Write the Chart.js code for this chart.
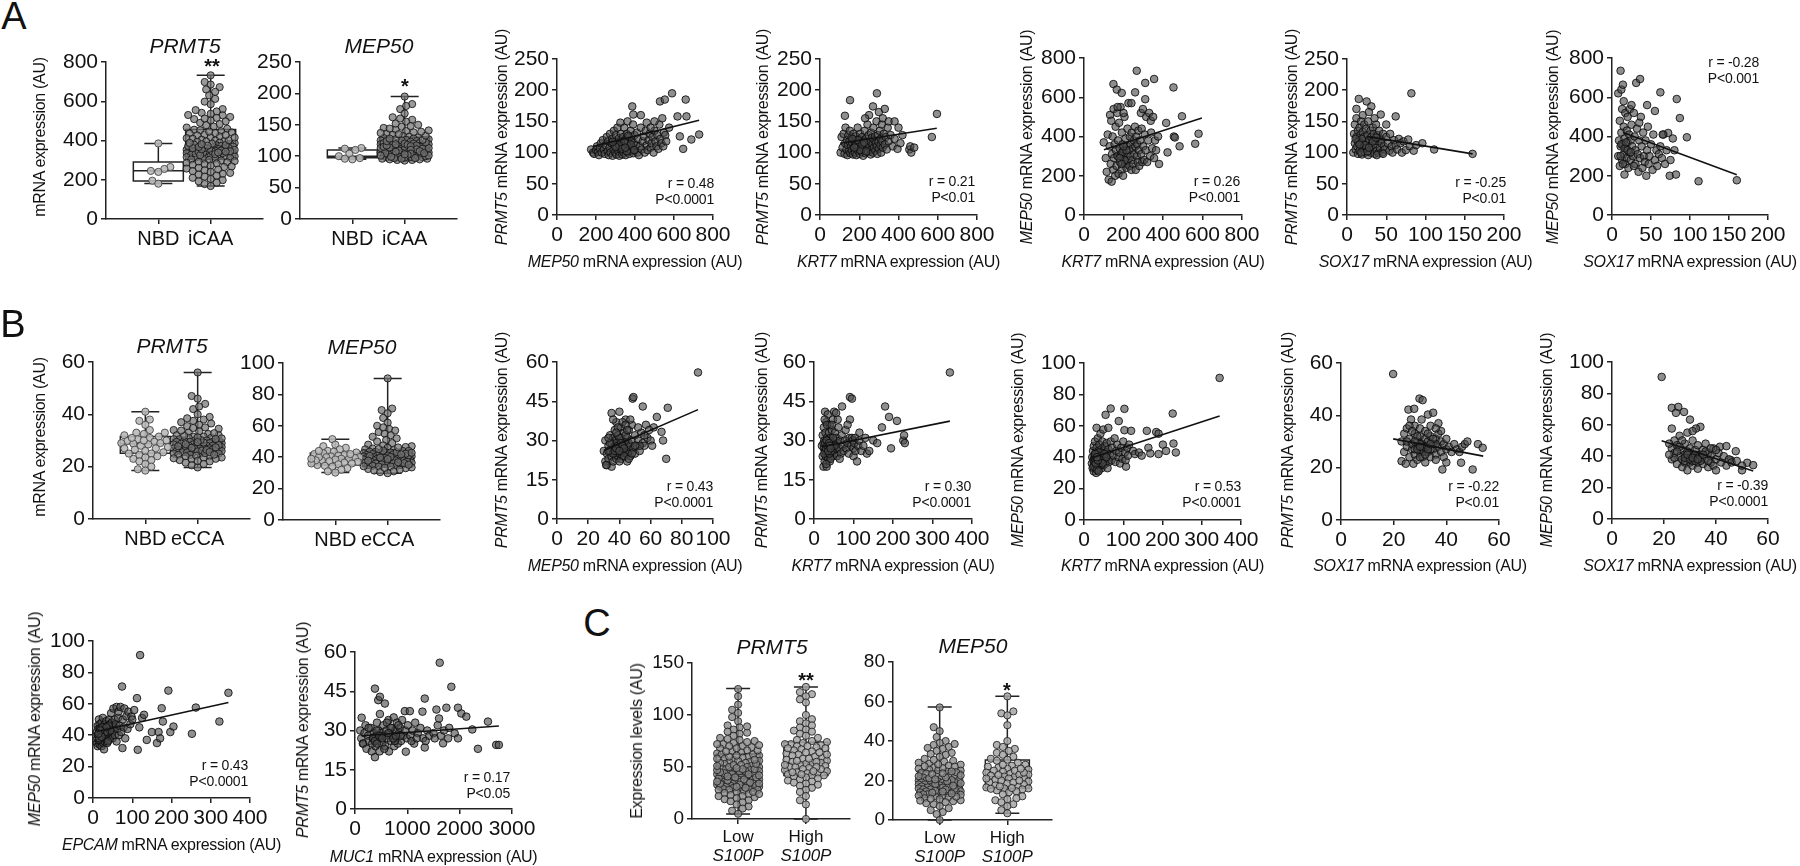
<!DOCTYPE html>
<html><head><meta charset="utf-8">
<script src="https://cdn.jsdelivr.net/npm/chart.js@4.4.0/dist/chart.umd.min.js"></script>
<style>
body{margin:0;background:#fff;width:1800px;height:866px;overflow:hidden;position:relative;font-family:"Liberation Sans",Arial,Helvetica,sans-serif;color:#111}
canvas{position:absolute}
.t{position:absolute;white-space:nowrap;line-height:1;transform:translate(-50%,-50%);z-index:5}
.rot{transform:translate(-50%,-50%) rotate(-90deg)}
.ann{position:absolute;white-space:nowrap;text-align:right;transform:translate(-100%,-50%);font-size:14px;line-height:16px;letter-spacing:-0.2px;z-index:5}
.ttl{letter-spacing:-0.3px}
</style></head><body>
<script>
// ================= DATA =================
// Box-plot categories
const catA = ['NBD','iCAA'];
const catB = ['NBD','eCCA'];
const catC = ['Low','High'];
const catCsub = ['S100P','S100P'];

// Box statistics [min, q1, median, q3, max]
const statsA_PRMT5 = [[181,193,246,291,385],[168,304,360,456,732]];
const statsA_MEP50 = [[95,97.5,100,109.7,113],[93,107,118,130,195]];
const statsB_PRMT5 = [[18.5,25.1,28.9,31.5,41],[19.7,25.8,27.7,30.4,56]];
const statsB_MEP50 = [[30.2,35.1,39,42.6,51.5],[29.8,34,39.4,44.7,90.2]];
const statsC_PRMT5 = [[4.8,31.9,45,62.6,125.4],[0,41.8,53.6,73.7,127]];
const statsC_MEP50 = [[0,13,18.3,24.9,57.2],[3.4,16.1,22,30.4,62.6]];

// Box-plot individual values
const A_PRMT5_NBD = [385,265,255,245,240,195,180];
const A_PRMT5_iCAA = [732,698,685,672,660,648,630,612,598,585,560,548,541,536,528,520,515,509,502,497,490,484,478,471,466,460,455,452,447,441,436,430,426,421,417,412,409,404,400,397,393,389,386,382,379,375,372,369,366,362,359,356,353,350,348,345,342,340,337,335,332,330,327,325,322,320,318,315,313,311,308,306,303,301,298,295,292,289,286,283,280,276,272,268,265,261,257,252,248,244,240,235,230,226,221,216,210,204,198,192,185,178,168,352,347,344,338,334,358,363,371,377,384,395,402,415,428,438,445,512,530,555,345,341,336,331,326,349,343,339,355,361,367,374,381,388];
const A_MEP50_NBD = [113,112,110,104,100,97,96,95];
const A_MEP50_iCAA = [195,183,180,175,168,162,158,155,150,147,145,142,140,138,136,134,132,131,130,129,128,127,126,125,124,123,122,121,120,120,119,118,118,117,116,116,115,114,114,113,112,112,111,110,110,109,108,108,107,106,106,105,104,104,103,102,102,101,100,100,99,98,98,97,96,96,95,94,94,93,119,117,115,113,111,109,107,105,103,101,99,97,121,123,125,127,120,118,116,114,112,110,108,106,104,102,100,98,96,95,97,99,101,103,105,113,115,117,119,122,124,126,128,133,135,137,139,141,144,148,152,160];
const B_PRMT5_NBD = [41,38,37.5,36,34,33,32.5,32,31.5,31,30.5,30,29.8,29.5,29,28.8,28.5,28,27.5,27,26.5,26,25.5,25,24.5,24,23.5,23,22.5,22,21,20,19,18.5,31,29,27,25,33,30];
const B_PRMT5_eCCA = [56,47,46,44,42,40,39,38,37.5,37,36,35.5,35,34.5,34,33.5,33,32.5,32,32,31.5,31.5,31,31,30.5,30.5,30,30,30,29.5,29.5,29.5,29,29,29,28.5,28.5,28.5,28,28,28,28,27.5,27.5,27.5,27,27,27,27,26.5,26.5,26.5,26,26,26,26,25.5,25.5,25.5,25,25,25,24.5,24.5,24,24,23.5,23.5,23,23,22.5,22,21.5,21,20.5,19.7,29.8,28.8,27.8,26.8,25.8,30.8,31.8,32.8,33.8,34.8,29.2,28.2,27.2,26.2,25.2,24.2,23.2,22.2,30.2,31.2,28.6,27.4,26.4,29.4,30.6,25.6,24.6,36.5,38.5,43];
const B_MEP50_NBD = [51.5,48,47,46,45,44,43.5,43,42.5,42,41.5,41,40.5,40,40,39.5,39,39,38.5,38,37.5,37,36.5,36,35.5,35,34.5,34,33,32,31,30.2,40,38,42,36,44,39];
const B_MEP50_eCCA = [90.2,71,70,68,65,62,60,58,57,56,55,53,52,51,50,49,48,47.5,47,46.5,46,45.5,45,44.5,44,44,43.5,43.5,43,43,42.5,42.5,42,42,41.5,41.5,41,41,41,40.5,40.5,40,40,40,39.5,39.5,39.5,39,39,39,38.5,38.5,38.5,38,38,38,37.5,37.5,37,37,37,36.5,36.5,36,36,35.5,35.5,35,35,34.5,34.5,34,34,33.5,33,32.5,32,31.5,31,30.5,29.8,40.2,39.2,38.2,37.2,36.2,41.2,42.2,43.2,44.2,45.2,46.2,35.2,34.2,33.2,40.8,39.8,38.8,37.8,36.8,41.8,42.8,54,59];
const C_PRMT5_Low = [125,118,110,105,102,98,94,90,88,86,84,82,80,78,76,75,73,72,70,69,68,66,65,64,63,62,61,60,59,58,57,56,55,55,54,53,52,51,50,50,49,48,47,47,46,45,45,44,43,43,42,41,41,40,40,39,39,38,38,37,37,36,36,35,35,35,34,34,34,33,33,33,32,32,32,31,31,31,30,30,30,29,29,28,28,27,26,25,24,23,22,21,20,18,16,14,12,10,8,5,44,46,48,42,40,38,36,34,36,38,40,42,44,46,48,50,52,54,56,58,60,62,66,68,70,72,74,35,33,31,37,39,41,43,45,47,49,51,53,57,61,65,71,77,83,89,32,34,36,30,28,26,24,22,19,17];
const C_PRMT5_High = [127,122,120,118,115,112,100,96,94,92,90,88,86,85,84,82,80,78,76,75,74,73,72,72,71,70,70,69,68,67,66,65,64,63,62,61,60,59,58,57,56,55,54,54,53,52,51,50,50,49,48,47,46,45,44,44,43,42,42,41,40,39,38,37,36,35,34,33,32,30,28,26,22,18,14,0,62,58,55,48,45,52,64,68,56,50,46,43];
const C_MEP50_Low = [57,47,45,42,40,39,38,37,36,35,34,33,32,31,30,29.5,29,28.5,28,27.5,27,26.5,26,25.5,25,24.5,24,23.5,23,22.5,22,21.5,21,20.5,20,20,19.5,19.5,19,19,18.5,18.5,18,18,17.5,17.5,17,17,16.5,16.5,16,16,15.5,15.5,15,15,14.5,14.5,14,14,13.5,13.5,13,13,12.5,12,11.5,11,10.5,10,9.5,9,8.5,8,7,6,5,4,3,0,18.2,17.8,19.2,16.8,20.2,15.8,21.2,14.8,22.2,13.8,23.2,12.8,24.2,11.8,25.2,26.2,27.2,18.6,17.4,19.6,16.4,20.6,15.4,21.6,14.4,22.6,13.4,23.6,12.4,24.6,10.8,9.8,28.2,30.5,33.5,36.5,38.5];
const C_MEP50_High = [62.6,55,54,53,48,40,38,37,36,35,34,33,32,31,30.5,30,29,28,27.5,27,26.5,26,25.5,25,24.5,24,23.5,23,22.5,22,22,21.5,21,20.5,20,19.5,19,18.5,18,17.5,17,16.5,16,16,15.5,15,14.5,14,13,12,11,10.5,10,9,8,7,5,3.4,25,23,21,19,28,24,26,20,17,22.8,16.2,15.8];

// Scatter points [x, y]
const ptsA1 = [[175,105],[185,100],[190,98],[200,104],[205,110],[210,101],[215,96],[220,107],[225,115],[230,100],[235,120],[240,105],[245,98],[250,112],[255,125],[260,102],[262,118],[265,96],[270,108],[272,130],[275,100],[280,115],[283,122],[285,95],[290,105],[292,135],[295,112],[298,100],[300,118],[302,128],[305,97],[308,108],[310,140],[312,115],[315,102],[318,123],[320,95],[322,110],[325,148],[328,130],[330,104],[332,118],[335,97],[338,112],[340,125],[342,100],[345,140],[348,108],[350,120],[352,96],[355,113],[358,130],[360,102],[362,150],[365,117],[368,105],[370,125],[372,98],[375,110],[378,135],[380,103],[385,120],[388,108],[390,145],[392,99],[395,115],[398,128],[400,104],[405,112],[410,132],[412,100],[415,122],[420,96],[425,110],[430,140],[435,105],[440,118],[445,126],[450,100],[455,135],[460,112],[465,104],[470,120],[475,130],[480,108],[485,115],[490,125],[495,100],[500,135],[505,118],[510,110],[515,128],[520,106],[525,145],[530,122],[535,115],[540,155],[545,110],[548,132],[555,128],[560,118],[386,174],[391,161],[528,182],[553,185],[590,195],[660,185],[618,158],[664,158],[630,126],[729,129],[689,121],[647,106],[460,148],[480,140],[430,160],[500,150],[575,140],[320,112],[335,106],[345,118],[358,102],[365,127],[378,113],[395,104],[300,109],[285,117],[350,108]];
const lineA1 = [[187,110],[729,152]];
const ptsA2 = [[105,100],[110,125],[115,108],[120,130],[125,98],[128,115],[130,140],[135,105],[138,120],[140,96],[142,112],[145,128],[148,102],[150,118],[152,135],[155,99],[158,110],[160,124],[162,104],[165,115],[168,97],[170,130],[172,108],[175,120],[178,100],[180,113],[182,126],[185,96],[188,107],[190,118],[192,140],[195,103],[198,112],[200,122],[202,98],[205,130],[208,108],[210,116],[212,101],[215,125],[218,110],[220,95],[222,119],[225,104],[228,135],[230,112],[232,99],[235,122],[238,107],[240,115],[242,145],[245,101],[248,128],[250,110],[255,118],[258,97],[260,132],[262,105],[265,124],[268,113],[270,100],[272,140],[275,108],[278,120],[280,126],[282,103],[285,115],[288,150],[290,110],[292,98],[295,128],[298,117],[300,106],[305,135],[308,112],[310,122],[312,100],[315,145],[318,118],[320,108],[325,130],[330,113],[335,125],[340,105],[345,140],[350,118],[360,128],[370,110],[380,122],[395,106],[410,115],[420,128],[455,105],[460,110],[465,100],[480,108],[570,125],[596,162],[127,159],[153,184],[290,195],[270,174],[250,160],[300,165],[330,170],[230,155],[320,155],[350,150],[380,150],[400,140],[185,112],[195,120],[205,104],[215,113],[175,108],[165,122],[225,116],[235,102]];
const lineA2 = [[102,115],[595,139]];
const ptsA3 = [[100,370],[110,290],[115,220],[120,410],[125,180],[130,350],[132,510],[135,260],[138,480],[140,170],[142,310],[145,400],[148,230],[150,540],[152,290],[155,360],[158,200],[160,450],[162,330],[165,250],[168,520],[170,300],[172,380],[175,210],[178,470],[180,340],[182,270],[185,550],[188,310],[190,230],[192,420],[195,360],[198,200],[200,290],[202,330],[205,500],[208,260],[210,390],[212,310],[215,240],[218,350],[220,440],[222,280],[225,570],[228,330],[230,250],[232,400],[235,300],[238,360],[240,230],[242,420],[245,280],[248,340],[250,260],[252,380],[255,310],[258,450],[260,350],[262,230],[265,400],[268,300],[270,360],[272,270],[275,430],[278,330],[280,250],[285,380],[288,520],[290,310],[292,440],[295,270],[298,540],[300,350],[305,280],[308,410],[310,590],[312,330],[315,500],[320,270],[325,380],[330,520],[335,300],[338,480],[340,420],[345,340],[350,500],[355,290],[360,380],[365,330],[375,400],[380,260],[267,735],[149,667],[166,639],[191,622],[259,625],[310,673],[355,693],[453,650],[496,503],[416,469],[580,414],[484,350],[423,319],[563,363],[455,400],[460,395],[200,520],[170,550],[240,570],[185,300],[195,320],[205,280],[215,330],[180,290],[200,350],[190,260]];
const lineA3 = [[101,333],[597,494]];
const ptsA4 = [[8,100],[9,130],[10,115],[10,145],[11,105],[12,125],[12,155],[13,110],[14,135],[14,98],[15,120],[15,186],[16,140],[16,103],[17,128],[18,112],[18,150],[19,97],[20,133],[20,118],[21,107],[22,145],[22,125],[23,100],[24,138],[24,115],[25,182],[25,108],[26,128],[27,96],[27,150],[28,120],[29,110],[30,135],[30,100],[31,174],[31,125],[32,115],[33,140],[33,105],[34,130],[35,98],[35,120],[36,112],[37,145],[38,103],[39,128],[40,118],[40,99],[41,135],[42,108],[43,161],[43,122],[44,115],[45,100],[46,130],[47,110],[48,105],[50,125],[52,115],[54,103],[55,130],[57,110],[58,100],[60,120],[62,158],[62,112],[64,105],[66,122],[68,115],[70,100],[72,118],[75,104],[78,121],[80,110],[82,195],[85,103],[88,112],[96,115],[111,105],[160,98],[20,160],[28,165],[35,155],[12,170],[50,145],[18,100],[26,102],[38,96],[46,98],[14,117],[19,122],[23,112],[28,108],[33,118],[37,124],[11,122],[16,113]];
const lineA4 = [[25,126],[160,98]];
const ptsA5 = [[8,300],[8,620],[9,380],[10,250],[10,480],[11,735],[11,350],[12,639],[12,420],[13,280],[13,540],[14,664],[14,360],[15,310],[15,450],[16,206],[16,390],[17,260],[17,520],[18,340],[19,430],[19,290],[20,370],[20,500],[21,240],[22,410],[22,320],[23,540],[24,280],[24,380],[25,460],[26,350],[27,300],[28,520],[29,400],[30,260],[30,330],[31,673],[32,440],[33,310],[34,220],[35,380],[36,693],[36,290],[37,500],[38,350],[39,240],[40,420],[41,300],[42,270],[43,380],[44,200],[45,330],[46,450],[47,260],[48,300],[50,360],[52,230],[53,410],[55,280],[57,330],[58,250],[60,310],[62,625],[62,350],[64,290],[66,410],[68,260],[70,330],[72,418],[74,200],[75,280],[78,390],[80,330],[82,206],[83,591],[87,494],[96,396],[111,172],[160,177],[25,560],[45,560],[55,530],[15,580],[28,250],[35,470],[65,410],[12,360],[16,340],[20,330],[11,300],[18,370],[24,320],[14,260]];
const lineA5 = [[14,420],[160,205]];
const ptsB1 = [[30,26],[31,22],[31,30],[32,20.6],[32,25],[33,28],[33,23],[34,32],[34,26],[35,20],[35,29],[35,24],[36,27],[36,31],[36,22],[37,25],[37,34],[37,28],[38,26],[38,30],[38,23],[38,37],[39,27],[39,24],[39,32],[40,41],[40,29],[40,25],[40,28],[41,26],[41,31],[41,23],[41,35],[42,27],[42,30],[42,24],[43,28],[43,33],[43,26],[44,25],[44,29],[44,38],[45,27],[45,22],[45,31],[46,26],[46,34],[46,29],[47,24],[47,28],[48,36],[48,30],[48.5,46],[49,46.6],[49,27],[50,25],[50,32],[51,28],[52,30],[53,26],[54,33],[55,43],[55,29],[56,28],[57,36],[58,31],[60,30],[62,35],[64,39],[67,33.3],[68,30],[70,23],[71,42.5],[90.4,56],[35,40.5],[36,38],[42,37],[44,36],[39,35],[47,38],[45,25],[37,27],[40,31],[42,26],[38,29],[36,25],[34,29],[33,26],[41,28],[39,26],[43,24],[44,32],[46,23],[52,35],[53,28],[56,32],[31.5,20.6],[33,31],[40,22],[48,25],[50,28],[59,34],[61,28],[45,34],[38,33],[39,28],[40,27],[41,29],[37,26],[42,28],[43,27],[38,27],[40,26]];
const lineB1 = [[30,26.2],[90.4,41.8]];
const ptsB2 = [[20,28],[22,24],[22,32],[24,20],[25,27],[25,35],[26,30],[27,22],[28,26],[28,41],[29,33],[30,29],[30,24],[31,37],[32,27],[32,20],[33,31],[34,25],[35,29],[35,40],[36,23],[37,28],[38,33],[38,26],[39,30],[40,22],[40,36],[41,27],[42,31],[43,25],[44,29],[45,34],[46,24],[47,28],[48,38],[49,26],[50,30],[51,41],[52,25],[53,33],[54,28],[55,27],[56,40.5],[57,31],[58,24],[60,29],[62,35],[64,27],[66,30],[68,25],[70,32],[71,43],[73,28],[75,26],[78,30],[80,34],[82,27],[85,29],[88,25],[90,31],[91,46.6],[91,38],[94,28],[96,46],[96,31],[98,30],[100,27],[100,24],[102,29],[104,31],[105,26],[109,22],[112,28],[115,30],[120,26],[125,28],[134,25],[140,26],[150,30],[160,29],[172,35],[180,43],[190,39],[195,27],[210,37.5],[226,30],[228,32],[230,29],[344,56],[27,38],[33,36],[45,36],[60,38],[36,27],[29,26],[42,23],[34,30],[26,25],[24,29],[39,25],[44,26],[48,31],[52,28],[65,23],[31,21],[85,36],[115,33],[130,31],[28,29],[30,27],[32,30],[34,28],[36,26],[38,29],[40,28],[42,27]];
const lineB2 = [[20,27.6],[344,37.4]];
const ptsB3 = [[20,36],[21,40],[22,33],[23,44],[24,38],[25,31],[25,47],[26,35],[27,41],[28,37],[28,50],[29,33],[30,43],[30,39],[31,30],[32,58.7],[32,46],[33,36],[34,41],[35,34],[35,52],[36,38],[37,44],[38,32],[38,40],[39,48],[40,36],[41,42],[42,35],[42,55],[43,39],[44,45],[45,33],[46,37],[47,50],[48,41],[49,57.6],[50,35],[50,44],[52,38],[53,47],[54,40],[55,67],[55,36],[56,43],[58,49],[60,39],[62,58.7],[62,45],[64,37],[66,42],[68,71],[68,50],[70,38],[72,46],[75,41],[78,52],[80,37],[82,44],[85,48],[88.5,63],[88,40],[90,43],[92,36],[95,46],[98,39],[100,50],[103,70.8],[103,57.2],[104,43],[106,38],[107,34],[110,46],[112,41],[115,48],[120,56.8],[125,44],[130,42],[140,43],[147,41],[160,56.8],[164,46],[169,42.4],[184,56],[190,55],[190,42],[201,48],[209,44],[226,67.8],[228,48.7],[234,43],[345.5,90.5],[26,39],[31,42],[36,35],[40,40],[44,38],[34,37],[29,40],[38,43],[45,41],[48,36],[24,34],[33,32],[37,31],[52,42],[57,40],[60,33],[27,37],[30,36],[32,39],[35,38],[28,42],[33,40]];
const lineB3 = [[20,39.6],[345.5,66.3]];
const ptsB4 = [[19.8,55.8],[23,22.5],[23,30],[24,26],[24,33],[24.6,21.5],[25,28],[25,35],[25.6,42.2],[26,24],[26,31],[26.6,38.4],[27,27],[27,29],[27.5,21.5],[27.8,42.5],[28,25],[28,33],[28,36],[29,23],[29,28],[29,30],[29.8,46.4],[30,26],[30,32],[30,35],[30.6,38.4],[31,45.8],[31,24],[31,29],[31,27],[32,31],[32,22],[32,34],[33,40.3],[33,26],[33,28],[33,30],[34,36],[34,24],[34,32],[35,41],[35,27],[35,29],[36,25],[36,31],[36,23],[37,37],[37,28],[37,33],[38,26],[38,30],[38.5,19.3],[39,24],[39,29],[40,27],[40,22],[41,28],[42,26],[43,29],[44,27],[45,26],[45.6,21.9],[46,28],[47,29],[48,30],[50,19.3],[52,29],[53.8,27.6],[26,36],[28,27],[30,29],[32,28],[34,27],[36,29],[31,26],[29,32],[27,34],[33,33],[35,31],[25,30],[40,31],[38,34],[36,35],[30,24],[32,25],[29,27],[31,28],[33,27],[30,28],[28,30],[34,29]];
const lineB4 = [[19.8,31],[54,24.4]];
const ptsB5 = [[19.1,90.5],[23,70.8],[25.5,71.4],[27.7,68.2],[24.6,67.6],[30,63.3],[34,58.7],[32.3,57.6],[23,57.6],[41.5,46],[44,46.4],[47.6,43.2],[45.7,37.5],[52,35.8],[54.3,34.3],[50,31],[23,45],[23,38],[24,50],[24,42],[25,35],[25,47],[26,40],[26,53],[27,33],[27,44],[27,38],[28,48],[28,36],[28,41],[29,55],[29,31],[29,39],[30,45],[30,36],[30,42],[31,50],[31,34],[31,40],[32,38],[32,44],[33,32],[33,47],[33,36],[34,41],[34,39],[35,35],[35,44],[36,38],[36,48],[37,33],[37,42],[38,36],[38,40],[39,45],[39,34],[40,38],[40,31],[41,42],[42,36],[43,40],[44,34],[45,38],[46,36],[48,37],[50,34],[24,39],[26,46],[28,37],[30,39],[32,41],[34,37],[36,43],[29,43],[27,50],[31,37],[33,39],[35,41],[25,43],[37,37],[38,45],[40,44],[22,41],[22,48],[31,56],[28,39],[30,38],[32,37],[29,41],[31,39],[33,38]];
const lineB5 = [[19.1,49.8],[54.3,30.5]];
const ptsC1 = [[10,35],[10,42],[11,38],[12,46],[12,33],[13,40],[14,44],[14,36],[15,50],[15,39],[16,42],[17,34],[17,47],[18,38],[19,41],[20,36],[20,45],[21,40],[22,33],[22,48],[23,43],[24,37],[25,41],[25,51],[26,35],[27,45],[28,39],[28,31],[29,43],[30,47],[30,36],[31,40],[32,44],[33,38],[34,49],[35,42],[36,35],[37,46],[38,40],[39,44],[40,37],[41,50],[42,42],[43,47],[44,39],[45,45],[46,54],[47,41],[48,48],[50,43],[50,38],[52,57],[54,45],[55,50],[56,40],[58,47],[60,58],[60,36],[62,44],[64,51],[65,55],[66,40],[68,46],[70,58],[72,42],[74,71],[75,31.8],[76,50],[78,45],[80,57],[82,38],[85,52],[88,44],[90,55],[95,47],[98,52],[100,50],[105,56],[112,63.6],[114,30.7],[118,45],[120,91],[125,51],[130,53],[137,37],[150,42],[163,35],[167,42],[171,38],[175,57.2],[178,48.7],[192,68.4],[197,42],[205,45.5],[252,40.9],[262,57.6],[322,48.7],[345,67],[18,44],[26,39],[32,41],[40,46],[36,42],[44,43],[24,45],[30,42],[34,45],[38,36],[20,40],[15,37],[12,40],[16,38],[19,43],[22,39],[14,41]];
const lineC1 = [[10,42.4],[345,60.8]];
const ptsC2 = [[100,30],[120,27],[127,34.9],[150,25],[159,25],[180,29],[200,32],[220,23],[250,28],[270,26],[300,31],[320,22],[340,27],[360,29],[381,46],[381,19.8],[390,24],[400,28],[420,33],[430,26],[444,41.6],[450,30],[470,22],[476,42.9],[476,36.3],[490,27],[500,29],[520,25],[540,32],[560,28],[571,40.3],[580,24],[600,30],[620,27],[640,34],[650,22],[670,29],[690,26],[700,31],[720,28],[740,35],[750,24],[770,30],[790,27],[800,33],[820,25],[840,29],[860,31],[880,26],[900,34],[920,28],[952,37.4],[960,30],[971,21.9],[990,27],[1010,32],[1048,37.4],[1060,28],[1100,30],[1130,25],[1150,33],[1200,29],[1250,31],[1289,37.2],[1300,27],[1333,42.2],[1333,23.5],[1350,26],[1380,30],[1420,28],[1500,29],[1524,27],[1556,38],[1580,32],[1606,34.6],[1619,55.9],[1640,28],[1683,25.1],[1700,30],[1746,38.7],[1780,27],[1800,31],[1841,46.7],[1905,28.9],[1968,38.7],[1968,27],[2032,36.5],[2127,35.3],[2241,30.4],[2349,23],[2540,33.4],[2698,24.5],[2749,24.5],[260,31],[330,25],[410,30],[560,23],[610,33],[680,31],[760,26],[830,32],[870,28],[1080,26],[1180,27],[350,27],[380,26],[420,25],[460,28],[520,27],[640,29],[730,27],[780,28]];
const lineC2 = [[127,28],[2749,31.7]];

// ================= RENDERING =================
const FONT = '"Liberation Sans", Arial, Helvetica, sans-serif';
Chart.defaults.font.family = FONT;
const PADL = 70, PADT = 22, PADR = 34, PADB = 62;

function canvasFor(a){
  const cv = document.createElement('canvas');
  const w = a.r - a.l + PADL + PADR, h = a.b - a.t + PADT + PADB;
  cv.width = w; cv.height = h;
  cv.style.left = (a.l - PADL) + 'px'; cv.style.top = (a.t - PADT) + 'px';
  cv.style.width = w + 'px'; cv.style.height = h + 'px';
  document.body.appendChild(cv);
  return cv;
}
function linAxis(min, max, step, fs, pos){
  const ax = {
    type:'linear', position:pos, min:min, max:max,
    ticks:{stepSize:step, autoSkip:false, maxRotation:0, minRotation:0, color:'#111', padding:3, font:{family:FONT, size:fs}, callback:v => String(v)},
    grid:{display:true, drawOnChartArea:false, drawTicks:true, tickLength:5, color:'#222', lineWidth:1.5},
    border:{display:true, color:'#222', width:1.5}
  };
  if (pos === 'bottom') ax.afterFit = s => { s.height = PADB; };
  else ax.afterFit = s => { s.width = PADL; };
  return ax;
}
function baseOpts(x, y){
  return {responsive:false, animation:false, events:[],
    layout:{padding:{left:0, top:PADT, right:PADR, bottom:0}},
    plugins:{legend:{display:false}, tooltip:{enabled:false}},
    scales:{x:x, y:y}};
}
function scatterPanel(p){
  const cv = canvasFor(p.area);
  const x = linAxis(p.x[0], p.x[1], p.x[2], 21, 'bottom');
  const y = linAxis(p.y[0], p.y[1], p.y[2], 21, 'left');
  new Chart(cv, {type:'scatter', data:{datasets:[
    {data:p.line.map(q => ({x:q[0], y:q[1]})), showLine:true, pointRadius:0, borderColor:'#111', borderWidth:1.6, order:0, clip:false},
    {data:p.pts.map(q => ({x:q[0], y:q[1]})), pointRadius:3.8, pointBackgroundColor:'rgba(75,75,75,0.62)', pointBorderColor:'rgba(10,10,10,0.85)', pointBorderWidth:1, order:1, clip:false}
  ]}, options:baseOpts(x, y)});
}
// deterministic beeswarm layout (pixel-space collision avoidance)
function swarm(vals, center, yppu, xppu, maxHalf, d){
  const idx = vals.map((v, i) => i).sort((a, b) => vals[a] - vals[b]);
  const placed = [], res = new Array(vals.length);
  for (const i of idx){
    const py = vals[i] * yppu;
    let bestOff = 0, bestD = -1;
    for (let k = 0; ; k++){
      const off = (k % 2 === 0 ? 1 : -1) * Math.ceil(k / 2) * 1.5;
      if (Math.abs(off) > maxHalf) break;
      let md = Infinity;
      for (const q of placed){
        const dy = py - q[1];
        if (Math.abs(dy) >= d) continue;
        const dd = Math.hypot(off - q[0], dy);
        if (dd < md) md = dd;
      }
      if (md >= d){ bestOff = off; bestD = md; break; }
      if (md > bestD){ bestD = md; bestOff = off; }
    }
    placed.push([bestOff, py]);
    res[i] = {x:center + bestOff / xppu, y:vals[i]};
  }
  return res;
}
function boxPlugin(stats, hw, cw){
  return {id:'boxes', beforeDatasetsDraw(chart){
    const ctx = chart.ctx, x = chart.scales.x, y = chart.scales.y;
    ctx.save(); ctx.strokeStyle = '#222'; ctx.lineWidth = 1.5;
    stats.forEach((s, i) => {
      const cx = x.getPixelForValue(i + 1);
      const [mn, q1, md, q3, mx] = s.map(v => y.getPixelForValue(v));
      ctx.beginPath();
      ctx.rect(cx - hw, q3, 2 * hw, q1 - q3);
      ctx.moveTo(cx - hw, md); ctx.lineTo(cx + hw, md);
      ctx.moveTo(cx, q3); ctx.lineTo(cx, mx);
      ctx.moveTo(cx, q1); ctx.lineTo(cx, mn);
      ctx.moveTo(cx - cw, mx); ctx.lineTo(cx + cw, mx);
      ctx.moveTo(cx - cw, mn); ctx.lineTo(cx + cw, mn);
      ctx.stroke();
    });
    ctx.restore();
  }};
}
function subLabelPlugin(cats, subs){
  return {id:'sublabels', afterDraw(chart){
    const ctx = chart.ctx, x = chart.scales.x, b = chart.chartArea.bottom;
    ctx.save(); ctx.fillStyle = '#111'; ctx.textAlign = 'center'; ctx.textBaseline = 'middle';
    cats.forEach((c, i) => {
      const px = x.getPixelForValue(i + 1);
      ctx.font = '17px ' + FONT; ctx.fillText(c, px, b + 18);
      ctx.font = 'italic 17px ' + FONT; ctx.fillText(subs[i], px, b + 37);
    });
    ctx.restore();
  }};
}
function boxPanel(p){
  const a = p.area, cv = canvasFor(a);
  const yppu = (a.b - a.t) / (p.y[1] - p.y[0]), xppu = (a.r - a.l) / (p.xr[1] - p.xr[0]);
  const datasets = p.groups.map((g, i) => ({
    data:swarm(g, i + 1, yppu, xppu, p.spread, 6.2),
    pointRadius:3.6, pointBackgroundColor:p.fill[i], pointBorderColor:p.edge[i], pointBorderWidth:1, clip:false
  }));
  const x = linAxis(p.xr[0], p.xr[1], 1, 20, 'bottom');
  x.afterBuildTicks = s => { s.ticks = [{value:1}, {value:2}]; };
  x.ticks.callback = (v, i) => p.sub ? '' : p.cats[i];
  const y = linAxis(p.y[0], p.y[1], p.y[2], p.fs || 21, 'left');
  const plugins = [boxPlugin(p.stats, p.hw, p.cw)];
  if (p.sub) plugins.push(subLabelPlugin(p.cats, p.sub));
  new Chart(cv, {type:'scatter', data:{datasets:datasets}, options:baseOpts(x, y), plugins:plugins});
}
function T(html, x, y, fs, cls, extra){
  const e = document.createElement('div');
  e.className = 't ' + (cls || '');
  e.innerHTML = html; e.style.left = x + 'px'; e.style.top = y + 'px'; e.style.fontSize = fs + 'px';
  if (extra) e.style.cssText += extra;
  document.body.appendChild(e);
}
function ANN(lines, right, mid){
  const e = document.createElement('div'); e.className = 'ann';
  e.innerHTML = lines.join('<br>'); e.style.left = right + 'px'; e.style.top = mid + 'px';
  document.body.appendChild(e);
}

// ---------- Box plots ----------
const lightF = 'rgba(185,185,185,0.9)', lightE = 'rgba(70,70,70,0.9)';
const darkF = 'rgba(115,115,115,0.72)', darkE = 'rgba(20,20,20,0.85)';
const midF = 'rgba(135,135,135,0.78)', midE = 'rgba(30,30,30,0.85)';
boxPanel({area:{l:106,r:263,t:62,b:219}, xr:[0,3], y:[0,800,200], groups:[A_PRMT5_NBD, A_PRMT5_iCAA], stats:statsA_PRMT5, cats:catA, hw:25, cw:14, spread:24, fill:[lightF, darkF], edge:[lightE, darkE]});
boxPanel({area:{l:300,r:457,t:62,b:219}, xr:[0,3], y:[0,250,50], groups:[A_MEP50_NBD, A_MEP50_iCAA], stats:statsA_MEP50, cats:catA, hw:25, cw:14, spread:24, fill:[lightF, darkF], edge:[lightE, darkE]});
boxPanel({area:{l:93,r:250,t:362,b:519}, xr:[0,3], y:[0,60,20], groups:[B_PRMT5_NBD, B_PRMT5_eCCA], stats:statsB_PRMT5, cats:catB, hw:25, cw:14, spread:24, fill:[lightF, darkF], edge:[lightE, darkE]});
boxPanel({area:{l:283,r:440,t:363,b:520}, xr:[0,3], y:[0,100,20], groups:[B_MEP50_NBD, B_MEP50_eCCA], stats:statsB_MEP50, cats:catB, hw:25, cw:14, spread:24, fill:[lightF, darkF], edge:[lightE, darkE]});
boxPanel({area:{l:692,r:850,t:663,b:819}, xr:[0.32,2.65], y:[0,150,50], fs:19, groups:[C_PRMT5_Low, C_PRMT5_High], stats:statsC_PRMT5, cats:catC, sub:catCsub, hw:22, cw:12, spread:22, fill:[midF, 'rgba(165,165,165,0.85)'], edge:[midE, midE]});
boxPanel({area:{l:893,r:1052,t:662,b:820}, xr:[0.31,2.66], y:[0,80,20], fs:19, groups:[C_MEP50_Low, C_MEP50_High], stats:statsC_MEP50, cats:catC, sub:catCsub, hw:22, cw:12, spread:22, fill:[midF, 'rgba(165,165,165,0.85)'], edge:[midE, midE]});

// ---------- Scatter plots ----------
const scatters = [
  {area:{l:557,r:713,t:59,b:215}, x:[0,800,200], y:[0,250,50], pts:ptsA1, line:lineA1, yt:'PRMT5', xt:'MEP50', ytx:502, yty:137, xty:262, ann:['r = 0.48','P<0.0001'], ar:714, am:191},
  {area:{l:820,r:977,t:59,b:215}, x:[0,800,200], y:[0,250,50], pts:ptsA2, line:lineA2, yt:'PRMT5', xt:'KRT7', ytx:763, yty:137, xty:262, ann:['r = 0.21','P<0.01'], ar:975, am:189},
  {area:{l:1084,r:1242,t:58,b:215}, x:[0,800,200], y:[0,800,200], pts:ptsA3, line:lineA3, yt:'MEP50', xt:'KRT7', ytx:1027, yty:137, xty:262, ann:['r = 0.26','P<0.001'], ar:1240, am:189},
  {area:{l:1347,r:1504,t:59,b:215}, x:[0,200,50], y:[0,250,50], pts:ptsA4, line:lineA4, yt:'PRMT5', xt:'SOX17', ytx:1292, yty:137, xty:262, ann:['r = -0.25','P<0.01'], ar:1506, am:190},
  {area:{l:1612,r:1768,t:58,b:215}, x:[0,200,50], y:[0,800,200], pts:ptsA5, line:lineA5, yt:'MEP50', xt:'SOX17', ytx:1553, yty:137, xty:262, ann:['r = -0.28','P<0.001'], ar:1759, am:70},
  {area:{l:557,r:713,t:362,b:519}, x:[0,100,20], y:[0,60,15], pts:ptsB1, line:lineB1, yt:'PRMT5', xt:'MEP50', ytx:502, yty:440, xty:566, ann:['r = 0.43','P<0.0001'], ar:713, am:494},
  {area:{l:814,r:972,t:362,b:519}, x:[0,400,100], y:[0,60,15], pts:ptsB2, line:lineB2, yt:'PRMT5', xt:'KRT7', ytx:762, yty:440, xty:566, ann:['r = 0.30','P<0.0001'], ar:971, am:494},
  {area:{l:1084,r:1241,t:363,b:520}, x:[0,400,100], y:[0,100,20], pts:ptsB3, line:lineB3, yt:'MEP50', xt:'KRT7', ytx:1018, yty:440, xty:566, ann:['r = 0.53','P<0.0001'], ar:1241, am:494},
  {area:{l:1341,r:1499,t:363,b:520}, x:[0,60,20], y:[0,60,20], pts:ptsB4, line:lineB4, yt:'PRMT5', xt:'SOX17', ytx:1288, yty:440, xty:566, ann:['r = -0.22','P<0.01'], ar:1499, am:494},
  {area:{l:1612,r:1768,t:362,b:519}, x:[0,60,20], y:[0,100,20], pts:ptsB5, line:lineB5, yt:'MEP50', xt:'SOX17', ytx:1547, yty:440, xty:566, ann:['r = -0.39','P<0.0001'], ar:1768, am:493},
  {area:{l:93,r:250,t:641,b:798}, x:[0,400,100], y:[0,100,20], pts:ptsC1, line:lineC1, yt:'MEP50', xt:'EPCAM', ytx:35, yty:719, xty:845, ann:['r = 0.43','P<0.0001'], ar:248, am:773},
  {area:{l:355,r:512,t:652,b:809}, x:[0,3000,1000], y:[0,60,15], pts:ptsC2, line:lineC2, yt:'PRMT5', xt:'MUC1', ytx:303, yty:730, xty:857, ann:['r = 0.17','P<0.05'], ar:510, am:785}
];
scatters.forEach(p => {
  scatterPanel(p);
  T('<i>' + p.yt + '</i> mRNA expression (AU)', p.ytx, p.yty, 16, 'rot ttl');
  T('<i>' + p.xt + '</i> mRNA expression (AU)', (p.area.l + p.area.r) / 2, p.xty, 16, 'ttl');
  ANN(p.ann.map(s => s.replace('<', '&lt;')), p.ar, p.am);
});

// ---------- Titles, labels ----------
T('A', 14, 16, 38); T('B', 13, 324, 38); T('C', 597, 623, 38);
T('<i>PRMT5</i>', 185, 45, 21); T('<i>MEP50</i>', 379, 45, 21);
T('<i>PRMT5</i>', 172, 345, 21); T('<i>MEP50</i>', 362, 346, 21);
T('<i>PRMT5</i>', 772, 646, 21); T('<i>MEP50</i>', 973, 645, 21);
T('mRNA expression (AU)', 40, 137, 16, 'rot ttl');
T('mRNA expression (AU)', 40, 437, 16, 'rot ttl');
T('Expression levels (AU)', 637, 741, 16, 'rot ttl');
T('**', 212, 66, 20, '', 'font-weight:bold');
T('*', 405, 86, 20, '', 'font-weight:bold');
T('**', 806, 680, 20, '', 'font-weight:bold');
T('*', 1007, 690, 20, '', 'font-weight:bold');
</script>
</body></html>
